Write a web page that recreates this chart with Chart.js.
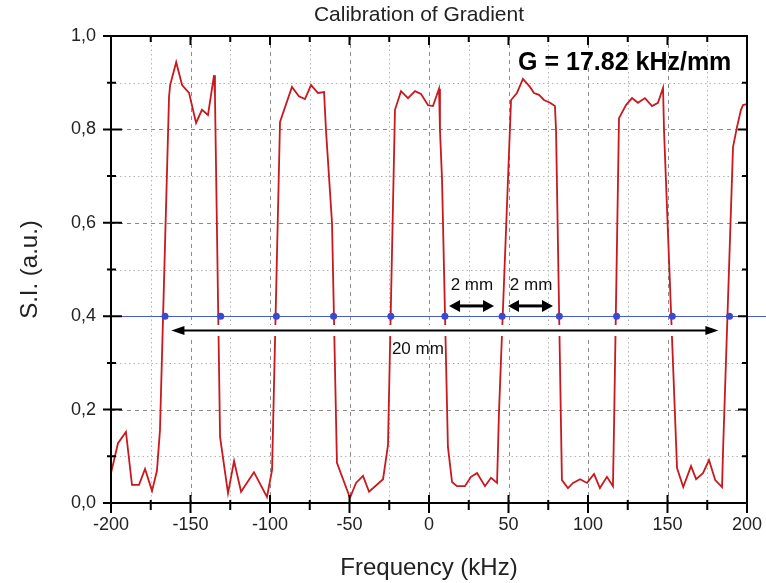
<!DOCTYPE html>
<html>
<head>
<meta charset="utf-8">
<title>Calibration of Gradient</title>
<script src="https://cdn.jsdelivr.net/npm/chart.js@4"></script>
<style>
  html, body { margin: 0; padding: 0; background: #fff; }
  #wrap { width: 766px; height: 583px; }
</style>
</head>
<body>
<div id="wrap"><canvas id="chart"></canvas></div>
<script>
// profile of the phantom along the gradient direction
const FREQ = [
  -200, -195.6, -190.6, -186.8, -182.4, -178.6, -174.2, -171.1, -169.2,
  -163.5, -162.8, -159.0, -155.3, -150.9, -146.5, -142.8, -139.0, -135.2, -134.6,
  -131.4, -126.4, -122.6, -118.2, -110.1, -101.9, -98.7,
  -93.7, -86.2, -81.8, -78.0, -74.2, -69.8, -66.0, -64.8, -61.0,
  -57.9, -49.7, -45.9, -41.5, -37.7, -28.9, -25.8,
  -21.4, -17.6, -13.2, -8.8, -5.0, -0.6, 2.5, 6.3, 6.9, 8.2,
  11.9, 14.5, 17.6, 22.6, 26.4, 30.2, 35.2, 39.0, 42.8, 44.0,
  51.6, 55.3, 59.1, 63.5, 66.0, 69.2, 72.3, 76.1, 79.2, 79.9,
  83.6, 87.4, 90.6, 95.0, 99.4, 103.8, 107.5, 111.9, 115.7, 116.4,
  119.5, 123.9, 127.7, 131.4, 135.8, 140.3, 144.0, 147.2, 147.8,
  156.0, 159.9, 164.8, 168.0, 172.3, 176.1, 180.0, 184.3, 185.0,
  191.2, 193.7, 196.2, 197.5, 200
];
const SIGNAL = [
  0.064, 0.128, 0.152, 0.039, 0.039, 0.073, 0.026, 0.069, 0.156,
  0.870, 0.895, 0.944, 0.895, 0.878, 0.814, 0.842, 0.831, 0.916, 0.869,
  0.141, 0.021, 0.090, 0.024, 0.066, 0.013, 0.071,
  0.816, 0.891, 0.871, 0.865, 0.895, 0.878, 0.880, 0.799, 0.600,
  0.086, 0.011, 0.043, 0.058, 0.024, 0.051, 0.124,
  0.842, 0.882, 0.867, 0.882, 0.876, 0.852, 0.850, 0.887, 0.799, 0.692,
  0.120, 0.045, 0.036, 0.036, 0.056, 0.064, 0.036, 0.054, 0.043, 0.193,
  0.863, 0.878, 0.908, 0.891, 0.878, 0.874, 0.863, 0.857, 0.850, 0.799,
  0.049, 0.032, 0.043, 0.051, 0.043, 0.062, 0.032, 0.056, 0.036, 0.171,
  0.824, 0.852, 0.867, 0.857, 0.867, 0.850, 0.857, 0.889, 0.799,
  0.075, 0.034, 0.079, 0.051, 0.064, 0.092, 0.049, 0.034, 0.120,
  0.762, 0.805, 0.842, 0.852, 0.854
];

// edges found at the 0.4 threshold
const EDGE_FREQ = [-166, -131, -96, -60, -24, 10, 46, 82, 118, 153, 189];
const EDGE_LEVEL = 0.4;

const X_MIN = -200, X_MAX = 200, X_STEP = 25, X_LABEL_EVERY = 50;
const Y_MIN = 0, Y_MAX = 1, Y_STEP = 0.1;

const FONT = "'Liberation Sans', Arial, sans-serif";

// dimension arrows, in kHz / signal units
const SPAN_ARROW = { from: -162, to: 182, at: 0.37, text: "20 mm", tx: -7, ty: 0.33 };
const STEP_ARROWS = [
  { from: 12.6, to: 40.9, at: 0.422, text: "2 mm", tx: 27, ty: 0.467 },
  { from: 49.7, to: 78.0, at: 0.422, text: "2 mm", tx: 64.2, ty: 0.467 },
];

const isMajorX = (v) => Math.round(v) % X_LABEL_EVERY === 0;
const isMajorY = (v) => Math.round(v * 10) % 2 === 0;

function arrowHead(ctx, x, y, dir, len, half) {
  ctx.beginPath();
  ctx.moveTo(x, y);
  ctx.lineTo(x - dir * len, y - half);
  ctx.lineTo(x - dir * len, y + half);
  ctx.closePath();
  ctx.fill();
}

function drawArrow(ctx, x1, x2, y, width, len, half) {
  ctx.lineWidth = width;
  ctx.beginPath();
  ctx.moveTo(x1 + len - 1, y);
  ctx.lineTo(x2 - len + 1, y);
  ctx.stroke();
  arrowHead(ctx, x2, y, 1, len, half);
  arrowHead(ctx, x1, y, -1, len, half);
}

const framePlugin = {
  id: "frame",
  beforeDatasetsDraw(chart) {
    const { ctx, chartArea: a, scales: { x, y } } = chart;
    ctx.save();
    ctx.lineWidth = 1;
    x.ticks.forEach((t) => {
      if (t.value <= X_MIN || t.value >= X_MAX) return;
      const px = Math.round(x.getPixelForValue(t.value)) + 0.5;
      const major = isMajorX(t.value);
      ctx.strokeStyle = major ? "#8c8c8c" : "#b4b4b4";
      ctx.setLineDash(major ? [4, 4] : [1.5, 3]);
      ctx.beginPath();
      ctx.moveTo(px, a.top);
      ctx.lineTo(px, a.bottom);
      ctx.stroke();
    });
    y.ticks.forEach((t) => {
      if (t.value <= Y_MIN + 1e-6 || t.value >= Y_MAX - 1e-6) return;
      const py = Math.round(y.getPixelForValue(t.value)) + 0.5;
      const major = isMajorY(t.value);
      ctx.strokeStyle = major ? "#8c8c8c" : "#b4b4b4";
      ctx.setLineDash(major ? [4, 4] : [1.5, 3]);
      ctx.beginPath();
      ctx.moveTo(a.left, py);
      ctx.lineTo(a.right, py);
      ctx.stroke();
    });
    ctx.restore();
  },
  afterDatasetDraw(chart, args) {
    // threshold line sits between the profile and the edge markers
    if (args.index !== 1) return;
    const { ctx, chartArea: a, scales: { y } } = chart;
    const py = Math.round(y.getPixelForValue(EDGE_LEVEL)) + 0.5;
    ctx.save();
    ctx.strokeStyle = "#4b5bd0";
    ctx.lineWidth = 1;
    ctx.beginPath();
    ctx.moveTo(a.left - 8, py);
    ctx.lineTo(chart.width, py);
    ctx.stroke();
    ctx.restore();
  },
  afterDatasetsDraw(chart) {
    const { ctx, chartArea: a, scales: { x, y } } = chart;
    ctx.save();

    // 20 mm span arrow with a white halo
    const sy = Math.round(y.getPixelForValue(SPAN_ARROW.at)) + 0.5;
    const sx1 = x.getPixelForValue(SPAN_ARROW.from);
    const sx2 = x.getPixelForValue(SPAN_ARROW.to);
    ctx.strokeStyle = "#fff";
    ctx.lineWidth = 11;
    ctx.beginPath();
    ctx.moveTo(sx1, sy);
    ctx.lineTo(sx2, sy);
    ctx.stroke();
    ctx.strokeStyle = "#000";
    ctx.fillStyle = "#000";
    drawArrow(ctx, sx1, sx2, sy, 2, 13, 4.5);

    STEP_ARROWS.forEach((ar) => {
      const py = y.getPixelForValue(ar.at);
      drawArrow(ctx, x.getPixelForValue(ar.from), x.getPixelForValue(ar.to), py, 3, 11, 6);
    });

    ctx.font = `17px ${FONT}`;
    ctx.textAlign = "center";
    ctx.textBaseline = "middle";
    ctx.fillStyle = "#111";
    [SPAN_ARROW, ...STEP_ARROWS].forEach((ar) => {
      ctx.fillText(ar.text, x.getPixelForValue(ar.tx), y.getPixelForValue(ar.ty));
    });

    ctx.font = `bold 25px ${FONT}`;
    ctx.textAlign = "left";
    ctx.fillStyle = "#000";
    ctx.fillText("G = 17.82 kHz/mm", x.getPixelForValue(56), y.getPixelForValue(0.941));

    // frame and ticks
    ctx.strokeStyle = "#000";
    ctx.lineWidth = 2;
    ctx.strokeRect(a.left, a.top, a.right - a.left, a.bottom - a.top);
    ctx.beginPath();
    x.ticks.forEach((t) => {
      const px = x.getPixelForValue(t.value);
      const major = isMajorX(t.value);
      ctx.moveTo(px, a.bottom - (major ? 8 : 3));
      ctx.lineTo(px, a.bottom + (major ? 10 : 7));
      ctx.moveTo(px, a.top);
      ctx.lineTo(px, a.top + (major ? 9 : 6));
    });
    y.ticks.forEach((t) => {
      const py = y.getPixelForValue(t.value);
      const major = isMajorY(t.value);
      ctx.moveTo(a.left - (major ? 8 : 4), py);
      ctx.lineTo(a.left + (major ? 11 : 5), py);
      ctx.moveTo(a.right, py);
      ctx.lineTo(a.right - (major ? 9 : 5), py);
    });
    ctx.stroke();

    ctx.font = `21px ${FONT}`;
    ctx.textAlign = "center";
    ctx.fillStyle = "#222";
    ctx.fillText("Calibration of Gradient", 419, 15);
    ctx.restore();
  },
};

const tickFont = { family: FONT, size: 18 };
const titleFont = { family: FONT, size: 24 };

new Chart(document.getElementById("chart"), {
  type: "scatter",
  data: {
    datasets: [
      {
        label: "edges",
        data: EDGE_FREQ.map((f) => ({ x: f, y: EDGE_LEVEL })),
        pointRadius: 3.5,
        pointBackgroundColor: "#3a4ad0",
        pointBorderColor: "#3a4ad0",
        pointBorderWidth: 0,
        showLine: false,
      },
      {
        label: "S.I.",
        data: FREQ.map((f, i) => ({ x: f, y: SIGNAL[i] })),
        showLine: true,
        borderColor: "#c8191e",
        borderWidth: 1.8,
        pointRadius: 0,
        tension: 0,
      },
    ],
  },
  options: {
    responsive: true,
    maintainAspectRatio: false,
    animation: false,
    devicePixelRatio: 1,
    layout: { padding: { top: 36, right: 19, left: 0, bottom: 0 } },
    plugins: {
      legend: { display: false },
      tooltip: { enabled: false },
    },
    scales: {
      x: {
        type: "linear",
        min: X_MIN,
        max: X_MAX,
        grid: { display: false, drawTicks: false },
        border: { display: false },
        ticks: {
          stepSize: X_STEP,
          autoSkip: false,
          maxRotation: 0,
          padding: 11,
          color: "#222",
          font: tickFont,
          callback: (v) => (isMajorX(v) ? String(v) : ""),
        },
        title: {
          display: true,
          text: "Frequency (kHz)",
          color: "#222",
          font: titleFont,
          padding: { top: 0, bottom: 0 },
        },
        afterFit: (s) => {
          s.height = 80;
          s.paddingLeft = 0;
          s.paddingRight = 0;
        },
      },
      y: {
        min: Y_MIN,
        max: Y_MAX,
        grid: { display: false, drawTicks: false },
        border: { display: false },
        ticks: {
          stepSize: Y_STEP,
          autoSkip: false,
          padding: 15,
          color: "#222",
          font: tickFont,
          callback: (v) => (isMajorY(v) ? v.toFixed(1).replace(".", ",") : ""),
        },
        title: {
          display: true,
          text: "S.I. (a.u.)",
          color: "#222",
          font: titleFont,
          padding: { top: 16, bottom: 0 },
        },
        afterFit: (s) => {
          s.width = 111;
          s.paddingTop = 0;
          s.paddingBottom = 0;
        },
      },
    },
  },
  plugins: [framePlugin],
});
</script>
</body>
</html>
